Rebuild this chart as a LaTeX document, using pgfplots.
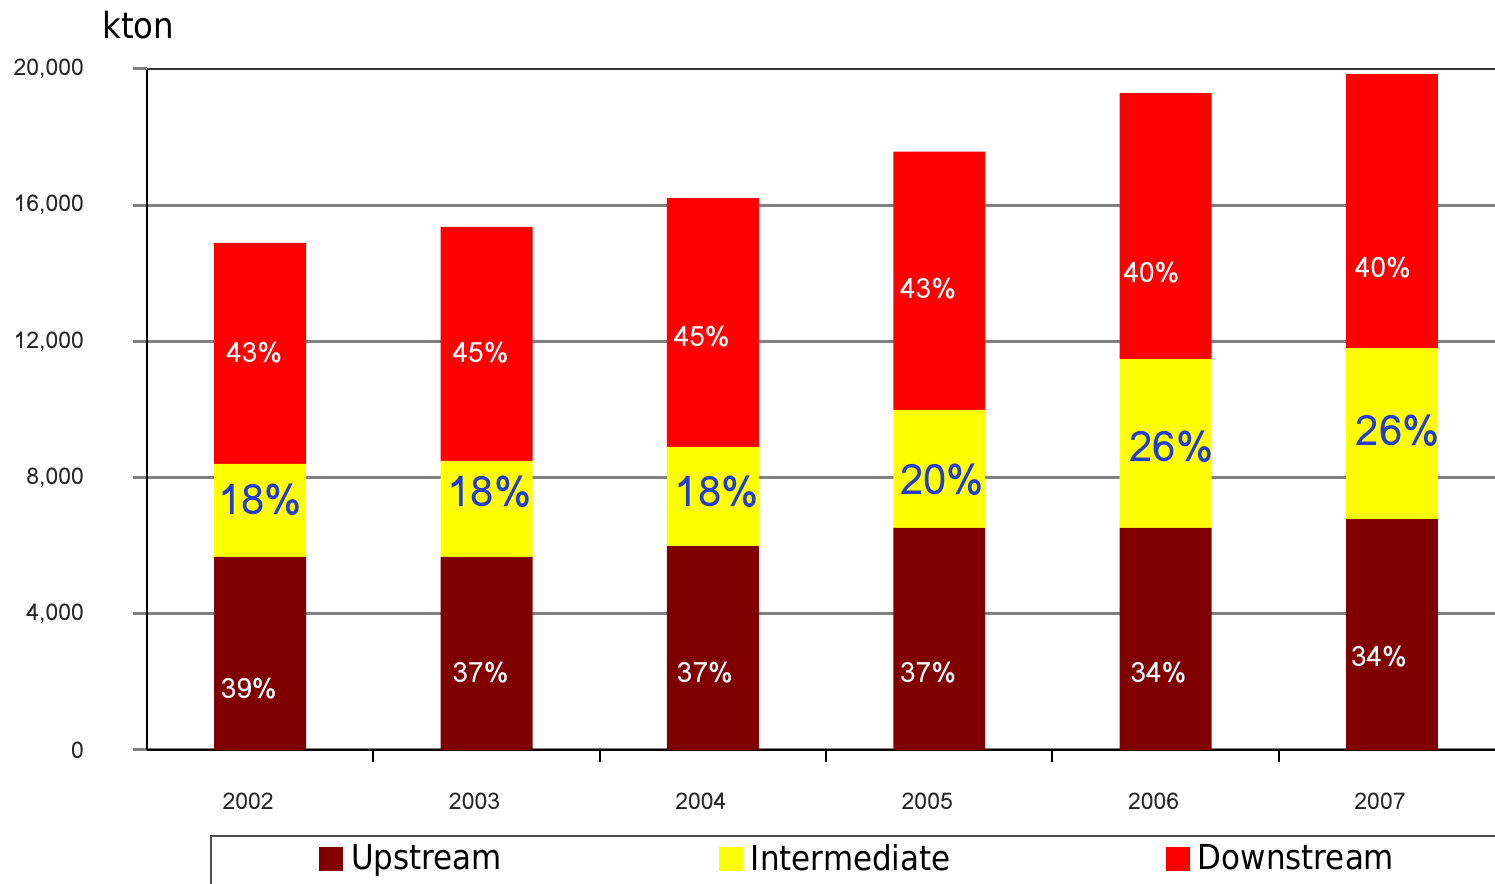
\documentclass[border=0pt]{standalone}
\usepackage{pgfplots}
\pgfplotsset{compat=1.18}
\usepackage{fontspec}
\setmainfont{Loma}
\newfontfamily\legfont{DejaVu Sans Condensed}
\definecolor{upc}{RGB}{128,0,0}
\definecolor{midc}{RGB}{255,255,0}
\definecolor{downc}{RGB}{255,0,0}
\definecolor{pctblue}{RGB}{35,60,210}
\tikzset{pw/.style={text=white, font=\fontsize{14}{16}\selectfont},
         pb/.style={text=pctblue, font=\fontsize{21}{24}\selectfont}}
\pgfplotsset{frame/.style={at={(73.5pt,67pt)}, anchor=south west,
  scale only axis, width=674pt, height=340.5pt,
  xmin=-0.5, xmax=5.455, ymin=0, ymax=20000}}
\begin{document}
\begin{tikzpicture}
\begin{axis}[
  frame,
  ybar stacked, bar width=0.406,
  axis x line*=bottom, axis y line*=left,
  axis line style={-, black, line width=1.2pt},
  xtick={0,1,2,3,4,5},
  xticklabels={2002,2003,2004,2005,2006,2007},
  major x tick style={draw=none},
  minor xtick={0.5,1.5,2.5,3.5,4.5},
  minor x tick style={black, line width=1pt},
  minor tick length=6pt,
  tick align=outside,
  ytick={0,4000,8000,12000,16000},
  extra y ticks={20000},
  extra y tick style={grid style={black!80, line width=1.3pt}},
  major tick length=7pt,
  y tick style={black!50, line width=1.5pt},
  ymajorgrids,
  grid style={black!50, line width=1.5pt},
  /pgf/number format/assume math mode=true,
  /pgf/number format/1000 sep={,},
  scaled y ticks=false,
  ticklabel style={font=\fontsize{11.5}{13}\selectfont, text=black!85},
  xticklabel style={yshift=-11pt, xshift=-6pt},
  yticklabel style={xshift=-21pt},
  legend columns=3,
  legend style={at={(0.04674,-0.1248)}, anchor=north west, draw=black!70, line width=1pt,
    inner xsep=54pt, inner ysep=2pt, column sep=0pt,
    font=\legfont\fontsize{17.2}{20}\selectfont,
    nodes={inner xsep=4pt, inner ysep=2pt}},
  legend image code/.code={\fill[#1, draw=none] (0pt,-6pt) rectangle (12pt,6pt); \path (0pt,-25pt);},
]
\addplot[fill=upc, draw=none] coordinates {(0,5670) (1,5670) (2,5990) (3,6520) (4,6520) (5,6780)};
\addlegendentry{\makebox[180pt][l]{Upstream}}
\addplot[fill=midc, draw=none] coordinates {(0,2730) (1,2820) (2,2910) (3,3470) (4,4960) (5,5020)};
\addlegendentry{\makebox[203.5pt][l]{Intermediate}}
\addplot[fill=downc, draw=none] coordinates {(0,6490) (1,6870) (2,7310) (3,7580) (4,7810) (5,8050)};
\addlegendentry{\makebox[180pt][l]{Downstream}}
\end{axis}
\begin{axis}[frame, hide axis]
\node[pw] at (axis cs:-0.026,11660) {43\%};
\node[pw] at (axis cs:0.974,11660) {45\%};
\node[pw] at (axis cs:1.951,12130) {45\%};
\node[pw] at (axis cs:2.951,13540) {43\%};
\node[pw] at (axis cs:3.938,14010) {40\%};
\node[pw] at (axis cs:4.960,14160) {40\%};
\node[pw] at (axis cs:-0.050,1790) {39\%};
\node[pw] at (axis cs:0.974,2260) {37\%};
\node[pw] at (axis cs:1.965,2260) {37\%};
\node[pw] at (axis cs:2.951,2260) {37\%};
\node[pw] at (axis cs:3.969,2260) {34\%};
\node[pw] at (axis cs:4.943,2730) {34\%};
\node[pb] at (axis cs:0,7340) {18\%};
\node[pb] at (axis cs:1.013,7580) {18\%};
\node[pb] at (axis cs:2.018,7580) {18\%};
\node[pb] at (axis cs:3.013,7930) {20\%};
\node[pb] at (axis cs:4.026,8900) {26\%};
\node[pb] at (axis cs:5.026,9370) {26\%};
\end{axis}
\node[anchor=west, inner sep=0pt, font=\legfont\fontsize{18}{20}\selectfont] at (51pt,429.5pt) {kton};
\pgfresetboundingbox
\useasboundingbox (0,0) rectangle (747.5pt,442pt);
\end{tikzpicture}
\end{document}
